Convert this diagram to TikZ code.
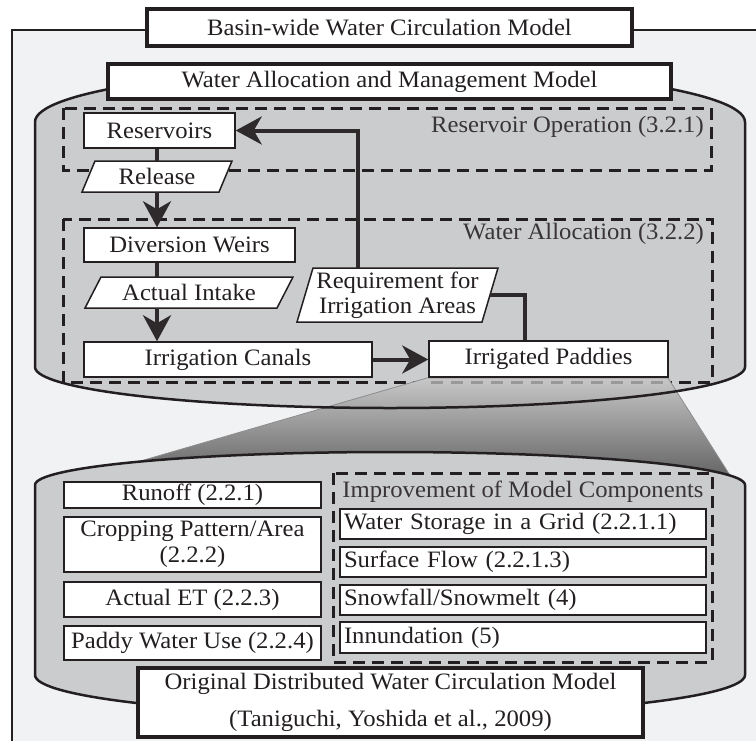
\documentclass[tikz,border=0pt]{standalone}
\usepackage{fontspec}
\setmainfont{Liberation Serif}[FakeStretch=1.05]
\usetikzlibrary{arrows.meta,calc}
\definecolor{ink}{HTML}{231F20}
\definecolor{bgc}{HTML}{F1F2F4}
\definecolor{cylc}{HTML}{CBCCCE}
\begin{document}
\begin{tikzpicture}[x=1pt,y=-1pt,
  font=\fontsize{23.5}{26}\selectfont,
  wbox/.style={draw=ink, fill=white, line width=1.5pt, inner sep=0pt, text=ink},
  tbox/.style={wbox, line width=3.5pt},
  ptext/.style={inner sep=0pt, text=ink, align=center},
  pbox/.style={draw=ink, fill=white, line width=1.5pt, line join=miter},
  dbox/.style={draw=ink, line width=3pt, dash pattern=on 12pt off 7pt},
  lbl/.style={inner sep=0pt, text=ink!90},
  link/.style={draw=ink!95, line width=4pt},
  flow/.style={link, -{Stealth[length=26pt,width=28pt,inset=8pt]}},
  cyl/.style={draw=ink, line width=2.5pt}
]
\useasboundingbox (0,0) rectangle (756,740);
% outer frame
\draw[fill=bgc, draw=ink, line width=2pt] (12,30) rectangle (770,760);
% upper cylinder fill
\fill[cylc] (35,122) -- (35,367) arc[start angle=180,end angle=360,x radius=355pt,y radius=41pt] -- (745,122) arc[start angle=0,end angle=180,x radius=355pt,y radius=54pt] -- cycle;
% dashed groups of the upper model
\draw[dbox] (63,108) rectangle (711,170);
\draw[dbox] (63,219) rectangle (712,382);
% funnel
\shade[top color=black!22, middle color=black!58, bottom color=black!62, draw=black!45, line width=0.8pt]
  (427,378) -- (668,378) -- (733,480) -- (75,480) -- cycle;
\draw[dbox, draw=black!40, dash pattern=on 12pt off 8pt] (431,382) -- (666,382);
% lower cylinder
\draw[cyl, fill=cylc] (35,485) -- (35,675) arc[start angle=180,end angle=360,x radius=355pt,y radius=40pt] -- (745,485) arc[start angle=0,end angle=180,x radius=355pt,y radius=33pt] -- cycle;
% upper cylinder outline
\draw[cyl] (35,122) -- (35,367) arc[start angle=180,end angle=360,x radius=355pt,y radius=41pt] -- (745,122) arc[start angle=0,end angle=180,x radius=355pt,y radius=54pt] -- cycle;
% dashed group of the lower model
\draw[dbox] (333,473) rectangle (712,662);
\node[lbl, anchor=east] (rolbl) at (704,126.5) {Reservoir Operation (3.2.1)};
\node[lbl, anchor=east] (walbl) at (704,234) {Water Allocation (3.2.2)};
\node[lbl] (imlbl) at (523,492) {Improvement of Model Components};
% titles
\node[tbox, minimum width=485, minimum height=37] (t1) at (389.5,27.5) {Basin-wide Water Circulation Model};
\node[tbox, minimum width=563, minimum height=35] (t2) at (389.5,81.5) {Water Allocation and Management Model};
% upper model
\node[wbox, minimum width=151, minimum height=35] (res) at (159.5,130.5) {Reservoirs};
\draw[pbox] (82,192) -- (95,161) -- (232,161) -- (219,192) -- cycle;
\node[ptext, minimum width=124, minimum height=31] (rel) at (157,176.5) {Release};
\node[wbox, minimum width=211, minimum height=34] (div) at (189.5,245) {Diversion Weirs};
\draw[pbox] (85,308) -- (101,277) -- (293,277) -- (277,308) -- cycle;
\node[ptext, minimum width=176, minimum height=31] (ai) at (189,292.5) {Actual Intake};
\node[wbox, minimum width=288, minimum height=35] (can) at (228,359.5) {Irrigation Canals};
\node[wbox, minimum width=239, minimum height=36] (pad) at (548.5,359) {Irrigated Paddies};
\draw[pbox] (297,322) -- (313,268) -- (498,268) -- (482,322) -- cycle;
\node[ptext, minimum width=185, minimum height=54, font=\fontsize{23.5}{25}\selectfont] (req) at (397.5,295) {Requirement for\\Irrigation Areas};
% connectors
\draw[link] (rel.north |- res.south) -- (rel.north);
\draw[flow] (rel.south) -- (rel.south |- div.north);
\draw[link] (rel.south |- div.south) -- (rel.south |- ai.north);
\draw[flow] (rel.south |- ai.south) -- (rel.south |- can.north);
\draw[flow] (can.east) -- (can.east -| pad.west);
\draw[flow] ([xshift=-39.5pt]req.north) |- (res.east);
\draw[link] (req.east) -| ([xshift=-23.5pt]pad.north);
% lower model
\node[wbox, minimum width=257, minimum height=26] (ro) at (192.5,495) {Runoff (2.2.1)};
\node[wbox, minimum width=257, minimum height=55, align=center, font=\fontsize{23.5}{26}\selectfont] (cp) at (192.5,544.5) {Cropping Pattern/Area\\(2.2.2)};
\node[wbox, minimum width=257, minimum height=35] (aet) at (192.5,599.5) {Actual ET (2.2.3)};
\node[wbox, minimum width=257, minimum height=34] (pwu) at (192.5,643) {Paddy Water Use (2.2.4)};
\node[wbox, minimum width=366, minimum height=30, text width=358, align=left] (ws) at (523,524) {Water Storage in a Grid (2.2.1.1)};
\node[wbox, minimum width=366, minimum height=30, text width=358, align=left] (sf) at (523,562) {Surface Flow (2.2.1.3)};
\node[wbox, minimum width=366, minimum height=30, text width=358, align=left] (sn) at (523,600) {Snowfall/Snowmelt (4)};
\node[wbox, minimum width=366, minimum height=31, text width=358, align=left] (inn) at (523,637.5) {Innundation (5)};
\node[tbox, minimum width=505, minimum height=69, align=center, font=\fontsize{23.5}{37}\selectfont] (orig) at (390.5,702.5) {Original Distributed Water Circulation Model\\(Taniguchi, Yoshida et al., 2009)};
\end{tikzpicture}
\end{document}
